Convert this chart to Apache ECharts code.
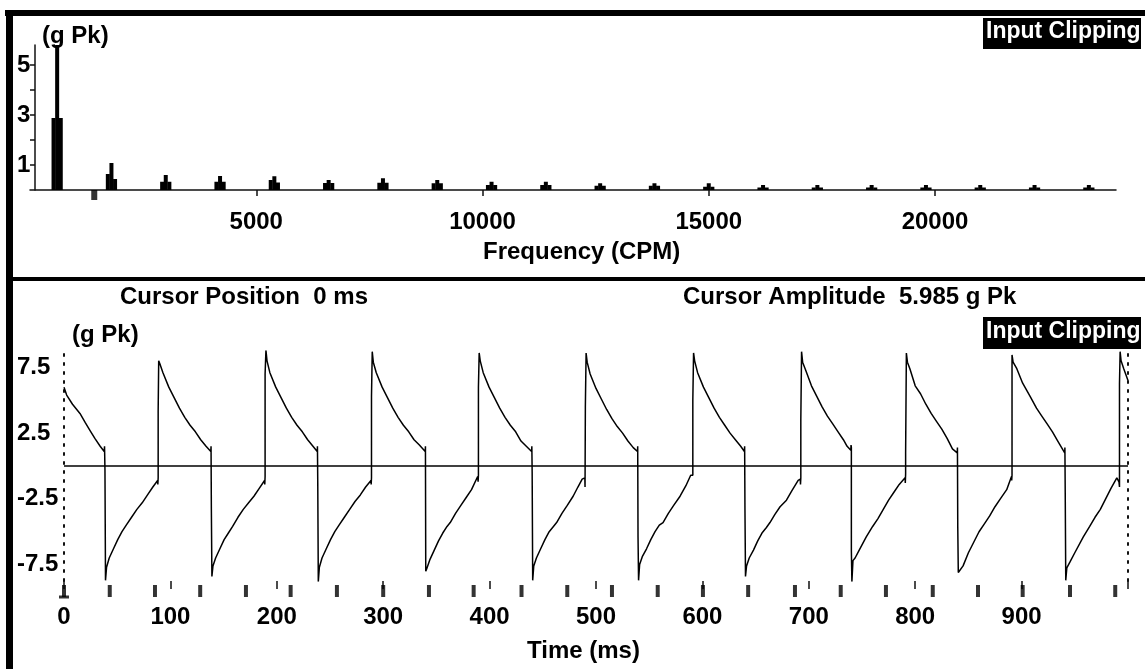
<!DOCTYPE html>
<html>
<head>
<meta charset="utf-8">
<script src="https://cdn.jsdelivr.net/npm/echarts@6/dist/echarts.min.js"></script>
<style>
html,body{margin:0;padding:0;background:#fff;}
#chart{width:1145px;height:669px;}
</style>
</head>
<body>
<div id="chart"></div>
<script>
// ---------- Spectrum (top) ----------
const harmonicFreq = [600,1800,3000,4200,5400,6600,7800,9000,10200,11400,12600,13800,15000,16200,17400,18600,19800,21000,22200,23400];
const peakAmp      = [5.8,1.08,0.60,0.56,0.55,0.40,0.47,0.40,0.33,0.33,0.27,0.27,0.27,0.20,0.20,0.20,0.20,0.20,0.20,0.20];
const lowerBinAmp  = [2.88,0.64,0.33,0.33,0.40,0.28,0.29,0.27,0.20,0.20,0.17,0.17,0.13,0.10,0.10,0.10,0.10,0.10,0.10,0.10];
const upperBinAmp  = [2.88,0.44,0.33,0.33,0.30,0.28,0.29,0.27,0.20,0.20,0.17,0.17,0.13,0.10,0.10,0.10,0.10,0.10,0.10,0.10];
const binSpacingCPM = 80;
const spectrumMarkerFreq = [1420];
const freqTickLabels = [5000,10000,15000,20000];
const ampTickLabels = [1,3,5];

// ---------- Time waveform (bottom) ----------
const waveform = [
[0,5.99],[2.5,5.4],[8,4.7],[15,4.0],[20,3.3],[24.5,2.7],[29,2.1],[34,1.5],[37.8,1.1],[38.1,1.5],
[38.5,1.4],[38.5,-0.3],[39,-0.3],[39,-8.7],[40,-7.7],[42.5,-7.0],[46.5,-6.3],[50.5,-5.6],[54.5,-5.0],[58.5,-4.5],[63.5,-3.9],[68.5,-3.3],[73.5,-2.8],[78.5,-2.2],[83.5,-1.6],[88,-1.1],[88.2,-1.4],
[88.5,-0.9],[88.5,4.1],[89,4.1],[89,8.0],[90,7.8],[93,7.1],[98.5,6.0],[103.5,5.2],[108.5,4.4],[113.5,3.7],[118.5,3.1],[123.5,2.6],[128.5,2.0],[133.5,1.5],[138,1.1],[138.2,1.5],
[138.5,1.4],[138.5,-3.3],[139,-3.3],[139,-8.4],[140,-7.6],[142.5,-7.0],[146.5,-6.3],[150.5,-5.6],[154.5,-5.1],[158.5,-4.6],[163.5,-3.9],[168.5,-3.3],[173.5,-2.8],[178.5,-2.3],[183.5,-1.7],[188.5,-1.1],[188.7,-1.4],
[189,-0.8],[189,7.0],[189.8,7.0],[189.8,8.8],[190.8,8.0],[193.5,7.1],[199,6.0],[204,5.2],[209,4.4],[214,3.7],[219,3.1],[224,2.6],[229,2.0],[234,1.5],[238,1.1],[238.2,1.5],
[238.5,1.4],[238.5,-1.3],[239,-1.3],[239,-8.8],[240,-7.7],[242.5,-7.0],[246.5,-6.3],[250.5,-5.6],[254.5,-5.0],[258.5,-4.5],[263.5,-3.9],[268.5,-3.3],[273.5,-2.7],[278.5,-2.2],[283.5,-1.6],[288.5,-1.1],[288.7,-1.4],
[289,-0.9],[289,5.3],[289.7,5.3],[289.7,8.7],[290.7,7.9],[293.5,7.1],[299,6.0],[304,5.2],[309,4.4],[314,3.7],[319,3.1],[324,2.6],[329,2.0],[334,1.6],[339.5,1.1],[339.7,1.5],
[340,1.4],[340,-8.0],[341,-7.8],[344,-7.1],[348,-6.4],[352,-5.7],[356,-5.1],[360,-4.6],[363,-4.3],[368,-3.6],[373,-3.0],[378,-2.4],[383,-1.8],[388.8,-0.8],[389.2,-1.2],
[389.5,-0.7],[389.5,6.0],[390.2,6.0],[390.2,8.6],[391.2,8.0],[394,7.1],[399.5,6.0],[404.5,5.2],[409.5,4.4],[414.5,3.7],[419.5,3.1],[424.5,2.6],[429.5,1.9],[434.5,1.5],[439.5,1.1],[439.7,1.5],
[440,1.4],[440,-0.5],[440.5,-0.5],[440.5,-8.7],[441.5,-7.6],[444,-7.0],[448,-6.3],[452,-5.6],[456,-5.0],[460,-4.6],[463,-4.3],[468,-3.6],[473,-3.0],[478.5,-2.3],[483,-1.6],[487,-1.0],[489.5,-0.9],[489.7,-1.6],
[490,-1.6],[490,4.5],[490.7,4.5],[490.7,8.6],[491.7,7.9],[494.5,7.0],[500,5.9],[505,5.1],[510,4.3],[515,3.6],[520,3.0],[525,2.5],[530,1.9],[535,1.4],[539,1.1],[539.2,1.5],
[539.5,1.4],[539.5,-5.4],[540,-5.4],[540,-8.7],[541,-7.5],[543.5,-6.9],[547.5,-6.3],[551.5,-5.6],[555.5,-5.0],[559.5,-4.5],[563,-4.3],[568,-3.6],[573,-3.0],[579,-2.3],[584.5,-1.5],[589,-0.7],[590.7,-0.6],
[591,-0.7],[591,5.0],[591.7,5.0],[591.7,8.6],[592.7,8.0],[595.5,7.1],[601,6.0],[606,5.2],[611,4.4],[616,3.7],[621,3.1],[626,2.5],[631,2.0],[636,1.5],[639.5,1.1],[639.7,1.5],
[640,1.4],[640,-3.3],[640.5,-3.3],[640.5,-8.4],[641.5,-7.6],[644,-7.0],[648,-6.4],[652,-5.7],[656,-5.1],[660,-4.7],[663.5,-4.3],[668,-3.7],[673,-3.1],[679,-2.6],[684,-1.9],[690,-1.1],[692,-1.0],[692.2,-1.4],
[692.5,-0.9],[692.5,3.5],[693.2,3.5],[693.2,8.7],[694.2,7.9],[697,7.3],[702.5,6.1],[707.5,5.3],[712.5,4.5],[717.5,3.8],[722.5,3.2],[727.5,2.6],[732.5,2.0],[736,1.5],[739.5,1.2],[739.7,1.6],
[740,1.4],[740,-6.4],[740.5,-6.4],[740.5,-8.8],[741.5,-7.2],[743.5,-7.0],[748,-6.3],[754,-5.4],[760,-4.6],[765,-4.0],[770,-3.3],[775,-2.6],[780,-2.0],[785,-1.4],[790.5,-0.9],[790.7,-1.3],
[791,-0.6],[791,1.0],[791.7,1.0],[791.7,8.6],[792.7,7.9],[795,7.4],[800,6.1],[805,5.5],[810,4.7],[815,4.0],[820,3.4],[825,2.8],[830,2.1],[835,1.3],[839.5,1.0],[839.7,1.4],
[840,1.3],[840,-4.6],[840.5,-4.6],[840.5,-8.1],[841.5,-8.0],[845,-7.6],[850,-6.6],[855,-5.8],[860,-5.0],[865,-4.4],[870,-3.8],[875,-3.1],[880,-2.5],[886,-1.8],[890.5,-0.8],[890.7,-1.1],
[891,-0.7],[891,8.45],[892,7.9],[895.5,7.4],[901,6.3],[908,5.3],[914,4.4],[919,3.8],[924,3.2],[929,2.6],[934,1.9],[939,1.2],[940.5,1.0],[940.7,1.4],
[941,1.3],[941,-2.0],[941.5,-2.0],[941.5,-8.7],[942.5,-7.75],[945.5,-7.3],[950,-6.6],[958,-5.4],[964,-4.6],[969,-3.9],[974,-3.3],[979,-2.5],[984,-1.7],[989.5,-0.9],[991.5,-1.2],
[992,-1.6],[992,6.3],[992.6,6.3],[992.6,8.7],[993.5,8.0],[996,7.4],[1000,6.5]
];
const pulseTimes = [0,43,85.5,128,171,213,256.5,300,343,385,430,473,515,558,600.5,643,687,730,772.5,816.5,859,901,945.5,988];
const triggerTimes = [0];
const timeTickLabels = [0,100,200,300,400,500,600,700,800,900];
const waveTickLabels = [7.5,2.5,-2.5,-7.5];

// ---------- Build series data ----------
const spectrumBins = [];
harmonicFreq.forEach((f,i)=>{
  spectrumBins.push([f - binSpacingCPM, lowerBinAmp[i]]);
  spectrumBins.push([f + binSpacingCPM, upperBinAmp[i]]);
  spectrumBins.push([f, peakAmp[i]]);
});

const FONT = "'Liberation Sans', Arial, sans-serif";

const chart = echarts.init(document.getElementById('chart'), null, {renderer:'canvas'});
chart.setOption({
  animation:false,
  backgroundColor:'#fff',
  grid:[
    {left:30, right:29, top:45, height:145},
    {left:64, right:17, top:351, height:230}
  ],
  xAxis:[
    {gridIndex:0, type:'value', min:0, max:24000, interval:5000,
     axisLine:{show:true, onZero:false, lineStyle:{color:'#111', width:1.5}},
     axisTick:{show:true, length:6, lineStyle:{color:'#111', width:1.5}, customValues:[5000,10000,15000,20000]},
     axisLabel:{margin:20, color:'#000', fontFamily:FONT, fontWeight:'bold', fontSize:24,
       formatter:v=> freqTickLabels.indexOf(v) >= 0 ? String(v) : ''},
     splitLine:{show:false}},
    {gridIndex:1, type:'value', min:0, max:1000, interval:100,
     axisLine:{show:false, onZero:false},
     axisTick:{show:true, length:8, lineStyle:{color:'#111', width:1.5}},
     axisLabel:{margin:24, color:'#000', fontFamily:FONT, fontWeight:'bold', fontSize:24,
       formatter:v=> timeTickLabels.indexOf(v) >= 0 ? String(v) : ''},
     splitLine:{show:false}}
  ],
  yAxis:[
    {gridIndex:0, type:'value', min:0, max:5.8, interval:1, offset:-5,
     axisLine:{show:true, lineStyle:{color:'#111', width:1.5}},
     axisTick:{show:true, length:5, lineStyle:{color:'#111', width:1.5}, customValues:[1,2,3,4,5]},
     axisLabel:{margin:18, align:'left', color:'#000', fontFamily:FONT, fontWeight:'bold', fontSize:24,
       formatter:v=> ampTickLabels.indexOf(v) >= 0 ? String(v) : ''},
     splitLine:{show:false}},
    {gridIndex:1, type:'value', min:-8.75, max:8.75, interval:1.25,
     axisLine:{show:true, lineStyle:{color:'#111', width:2, type:[2,7]}},
     axisTick:{show:false},
     axisLabel:{margin:47, align:'left', color:'#000', fontFamily:FONT, fontWeight:'bold', fontSize:24,
       formatter:v=> waveTickLabels.indexOf(v) >= 0 ? String(v) : ''},
     splitLine:{show:false}},
    {gridIndex:1, type:'value', position:'right', min:-8.75, max:8.75, interval:1.25,
     axisLine:{show:true, lineStyle:{color:'#111', width:2, type:[2,7]}},
     axisTick:{show:false}, axisLabel:{show:false}, splitLine:{show:false}}
  ],
  series:[
    {type:'bar', xAxisIndex:0, yAxisIndex:0, data:spectrumBins, barWidth:4,
     itemStyle:{color:'#000'}, silent:true},
    {type:'scatter', xAxisIndex:0, yAxisIndex:0, data:spectrumMarkerFreq.map(f=>[f,0]),
     symbol:'rect', symbolSize:[6,10], symbolOffset:[0,5], clip:false,
     itemStyle:{color:'#000'}, silent:true},
    {type:'line', xAxisIndex:1, yAxisIndex:1, data:waveform, showSymbol:false, symbol:'none',
     lineStyle:{color:'#000', width:1.5}, silent:true,
     markLine:{silent:true, symbol:['none','none'], label:{show:false},
       lineStyle:{color:'#000', width:1.5, type:'solid'}, data:[{yAxis:0}]}},
    {type:'scatter', xAxisIndex:1, yAxisIndex:1, data:pulseTimes.map(t=>[t,-8.75]),
     symbol:'rect', symbolSize:[4,12], symbolOffset:[0,10], clip:false,
     itemStyle:{color:'#000'}, silent:true},
    {type:'scatter', xAxisIndex:1, yAxisIndex:1, data:triggerTimes.map(t=>[t,-8.75]),
     symbol:'rect', symbolSize:[10,3], symbolOffset:[0,16], clip:false,
     itemStyle:{color:'#000'}, silent:true}
  ],
  graphic:[
    {type:'rect', left:5, top:10, shape:{width:1140, height:6}, style:{fill:'#000'}},
    {type:'rect', left:6, top:10, shape:{width:7, height:659}, style:{fill:'#000'}},
    {type:'rect', left:6, top:277, shape:{width:1139, height:4}, style:{fill:'#000'}},
    {type:'rect', left:983, top:18, shape:{width:158, height:31}, style:{fill:'#000'}},
    {type:'rect', left:983, top:317, shape:{width:158, height:32}, style:{fill:'#000'}},
    {type:'text', left:986, top:20, style:{text:'Input Clipping', fill:'#fff', font:'bold 23px ' + FONT}},
    {type:'text', left:986, top:320, style:{text:'Input Clipping', fill:'#fff', font:'bold 23px ' + FONT}},
    {type:'text', left:42, top:24, style:{text:'(g Pk)', fill:'#000', font:'bold 24px ' + FONT}},
    {type:'text', left:72, top:323, style:{text:'(g Pk)', fill:'#000', font:'bold 24px ' + FONT}},
    {type:'text', left:483, top:240, style:{text:'Frequency (CPM)', fill:'#000', font:'bold 24px ' + FONT}},
    {type:'text', left:120, top:285, style:{text:'Cursor Position  0 ms', fill:'#000', font:'bold 24px ' + FONT}},
    {type:'text', left:683, top:285, style:{text:'Cursor Amplitude  5.985 g Pk', fill:'#000', font:'bold 24px ' + FONT}},
    {type:'text', left:527, top:639, style:{text:'Time (ms)', fill:'#000', font:'bold 24px ' + FONT}}
  ]
});
</script>
</body>
</html>
